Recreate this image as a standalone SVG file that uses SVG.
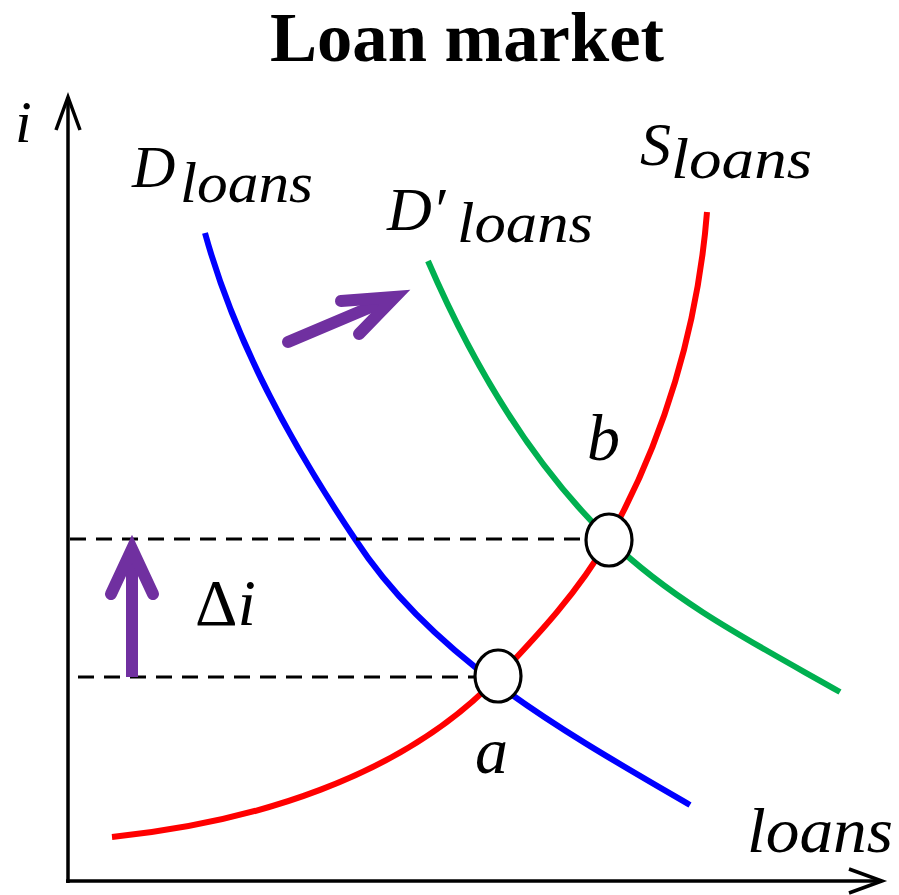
<svg xmlns="http://www.w3.org/2000/svg" width="899" height="895" viewBox="0 0 899 895">
<style>
.title{font-family:"Liberation Serif","Times New Roman",serif;font-weight:bold;font-size:70px;fill:#000}
.m{font-family:"Liberation Serif","Times New Roman",serif;font-style:italic;fill:#000}
.curve{fill:none;stroke-width:6;stroke-linecap:butt}
.axis{fill:none;stroke:#000;stroke-width:3.5;stroke-linejoin:miter}
.dash{fill:none;stroke:#000;stroke-width:3.2;stroke-dasharray:16 10}
.pt{fill:#fff;stroke:#000;stroke-width:3.2}
.shift{fill:none;stroke:#7030A0;stroke-width:12;stroke-linejoin:miter;stroke-miterlimit:6}
</style>
<rect width="899" height="895" fill="#fff"/>
<text class="title" x="270" y="61" textLength="394" lengthAdjust="spacingAndGlyphs">Loan market</text>

<g id="axes">
<path class="axis" d="M68,883 V97"/>
<path class="axis" d="M56,130 L68,97 L80,130"/>
<path class="axis" d="M66,881 H882"/>
<path class="axis" d="M849,869 L882,881 L849,893"/>
<text class="m" x="15" y="142" font-size="60">i</text>
<text class="m" x="747" y="852" font-size="64" textLength="146" lengthAdjust="spacingAndGlyphs">loans</text>
</g>

<g id="connectors">
<path id="D" class="curve" stroke="#0000FF" d="M205,233 C235,342 291,444 355,539 C433,659 566,733 690,805"/>
<path id="Dprime" class="curve" stroke="#00B050" d="M428,261 C472,363 531,464 611,541 C676,604 761,647 840,692"/>
<path id="S" class="curve" stroke="#FF0000" d="M112,837 C250,823 402,778 498,677 C538,635 579,591 608,540 C664,441 698,326 707,212"/>
<path class="dash" d="M70,539 H587"/>
<path class="dash" d="M78,677 H474"/>
<path class="shift" stroke-linecap="butt" d="M132,677 V552"/>
<path class="shift" stroke-linecap="round" d="M111,594 L132,549 L153,594"/>
<path class="shift" stroke-linecap="round" d="M288,342 L392,298"/>
<path class="shift" stroke-linecap="round" d="M341,301 L395,297 L359,334"/>
</g>

<g id="label-D">
<text class="m" x="132" y="187" font-size="60">D</text>
<text class="m" x="180" y="202" font-size="58" textLength="133" lengthAdjust="spacingAndGlyphs">loans</text>
</g>
<g id="label-Dprime">
<text class="m" x="387" y="230" font-size="62">D′<tspan x="457" y="242" font-size="58" textLength="136" lengthAdjust="spacingAndGlyphs">loans</tspan></text>
</g>
<g id="label-S">
<text class="m" x="640" y="165" font-size="62">S<tspan x="671" y="178" font-size="58" textLength="141" lengthAdjust="spacingAndGlyphs">loans</tspan></text>
</g>
<g id="label-delta">
<text x="195" y="625" font-size="66" font-family="Liberation Serif, serif">Δ<tspan font-style="italic">i</tspan></text>
</g>

<g id="point-a">
<ellipse class="pt" cx="498" cy="676" rx="23" ry="26"/>
<text class="m" x="475" y="773" font-size="66">a</text>
</g>
<g id="point-b">
<ellipse class="pt" cx="609" cy="540" rx="23" ry="26"/>
<text class="m" x="587" y="460" font-size="66">b</text>
</g>
</svg>
